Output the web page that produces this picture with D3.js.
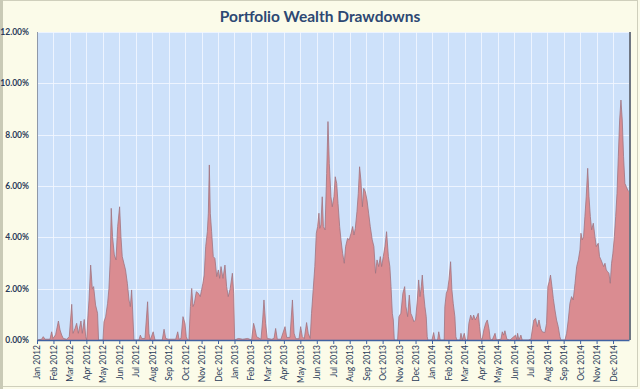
<!DOCTYPE html>
<html>
<head>
<meta charset="utf-8">
<script src="https://cdn.jsdelivr.net/npm/d3@7"></script>
<style>
  body { margin: 0; background: #fbfbe9; }
  svg { display: block; }
  text { font-family: Lato, "Liberation Sans", sans-serif; }
</style>
</head>
<body>
<div id="chart"></div>
<script>
// month labels along the x axis
var monthLabels = [
  "Jan 2012","Feb 2012","Mar 2012","Apr 2012","May 2012","Jun 2012","Jul 2012","Aug 2012","Sep 2012","Oct 2012","Nov 2012","Dec 2012",
  "Jan 2013","Feb 2013","Mar 2013","Apr 2013","May 2013","Jun 2013","Jul 2013","Aug 2013","Sep 2013","Oct 2013","Nov 2013","Dec 2013",
  "Jan 2014","Feb 2014","Mar 2014","Apr 2014","May 2014","Jun 2014","Jul 2014","Aug 2014","Sep 2014","Oct 2014","Nov 2014","Dec 2014"
];
var yTicks = [0, 2, 4, 6, 8, 10, 12];

// position in months since Jan 2012
var months = [
  0,0.28,0.38,0.49,0.79,0.89,0.97,1.13,1.30,1.40,1.50,1.60,1.80,1.96,2.11,2.19,2.31,2.41,2.51,2.67,2.75,2.87,2.96,3.02,
  3.08,3.16,3.26,3.36,3.44,3.56,3.68,3.74,4.01,4.07,4.17,4.29,4.37,4.45,4.51,4.59,4.70,4.80,4.90,5.02,5.10,5.18,5.28,
  5.38,5.49,5.59,5.67,5.75,5.81,5.89,6.19,6.28,6.36,6.56,6.72,6.80,6.88,7.06,7.17,
  7.61,7.72,7.82,7.98,8.43,8.55,8.63,8.75,8.87,8.99,9.07,9.15,9.23,9.32,9.40,9.48,9.56,9.68,9.80,9.92,10.0,10.08,10.16,
  10.25,10.35,10.41,10.47,10.53,10.61,10.71,10.81,10.92,11.02,11.10,11.18,11.30,11.42,11.52,11.62,11.74,11.87,11.95,12.01,
  12.23,12.50,12.80,13.04,13.16,13.24,13.34,13.61,13.71,13.79,13.89,13.99,14.26,14.40,14.50,14.60,14.82,15.07,15.17,
  15.37,15.52,15.62,15.72,15.92,16.02,16.12,16.24,16.38,16.48,16.60,16.68,16.78,16.88,16.97,17.05,17.13,17.18,17.25,
  17.33,17.40,17.50,17.60,17.68,17.76,17.86,17.94,18.04,18.12,18.21,18.29,18.39,18.47,18.57,18.67,18.75,18.87,18.97,
  19.08,19.18,19.26,19.34,19.44,19.52,19.60,19.68,19.77,19.85,19.95,20.05,20.15,20.25,20.37,20.47,20.57,20.66,20.76,
  20.86,20.94,21.04,21.14,21.24,21.35,21.44,21.51,21.59,21.65,21.71,21.91,
  21.99,22.11,22.23,22.34,22.42,22.52,22.62,22.71,22.80,22.90,23.0,23.11,23.19,23.27,23.35,23.41,23.49,23.57,23.65,
  23.71,23.75,24.0,24.10,24.18,24.34,24.41,24.50,24.74,24.78,24.87,24.95,25.03,25.13,25.21,25.29,25.39,25.45,25.51,
  25.70,25.76,25.84,25.96,26.04,26.16,26.24,26.35,26.45,26.53,26.63,26.73,26.81,26.89,26.97,27.05,27.15,27.26,27.36,
  27.46,27.54,27.66,27.83,27.91,28.19,28.27,28.35,28.43,28.55,28.74,29.08,29.16,
  29.20,29.28,29.40,29.48,29.85,30.01,30.09,30.19,30.29,30.40,30.50,30.60,30.70,30.86,30.96,31.04,31.12,31.20,31.29,
  31.37,31.47,31.57,31.67,31.77,31.83,32.08,32.18,32.28,32.38,32.48,32.58,32.69,32.79,32.89,32.99,33.05,33.13,33.21,
  33.29,33.37,33.46,33.54,33.62,33.70,33.80,33.90,33.98,34.10,34.18,34.27,34.35,34.43,34.51,34.59,34.67,34.75,34.83,
  34.91,34.99,35.08,35.16,35.24,35.32,35.40,35.48,35.56,35.64,35.72,35.81,35.89,35.97
];
// drawdown in percent at each position above
var drawdown = [
  0,0.03,0.13,0.03,0.03,0.32,0.06,0.2,0.74,0.39,0.19,0.06,0.03,0.13,1.39,0.26,0.45,0.65,0.26,0.74,0.26,0.8,0.13,0,
  0.78,1.56,2.92,2.0,2.08,1.36,1.04,0,0,0.71,0.9,1.43,2.01,3.12,5.13,4.03,3.31,3.12,4.42,5.19,4.03,3.25,2.99,
  2.73,2.21,1.56,1.3,1.95,1.17,0,0,0.19,0.06,0.06,1.49,0.26,0,0.32,0,
  0,0.42,0.06,0.03,0.03,0.32,0.03,0.06,0.91,0.65,0.13,0,0,1.3,2.01,1.3,1.43,1.88,1.82,1.69,1.95,2.21,2.53,
  3.64,4.22,4.94,6.82,4.94,4.22,3.25,3.18,2.47,2.73,2.4,2.86,2.4,2.92,2.08,1.69,2.01,2.6,1.82,0,
  0.06,0.03,0.06,0,0.65,0.45,0.13,0.03,0.78,1.56,0.65,0.06,0.03,0.06,0.45,0.03,0.03,0.52,0.1,
  0.1,1.56,0.26,0.05,0.05,0.52,0.13,0.05,0.68,0.26,0.06,1.04,1.95,2.86,4.16,4.42,4.94,4.35,4.48,
  5.58,4.42,4.29,6.49,8.51,6.88,5.58,5.19,5.58,6.36,6.1,5.32,4.42,3.9,3.38,2.99,3.64,3.96,3.9,
  4.16,4.42,4.09,4.35,5.0,5.71,6.75,6.23,5.19,5.91,5.78,5.45,4.94,4.42,3.9,3.64,2.6,3.12,2.86,
  3.25,2.86,3.25,3.64,4.22,3.25,2.86,2.08,1.04,0.78,0,0,
  0.91,1.04,1.82,2.08,1.3,0.91,1.75,1.04,0.91,0.71,0.78,1.56,2.34,1.69,2.08,2.53,1.82,1.3,0.91,
  0.13,0,0,0.29,0,0,0.32,0,0,1.3,1.82,1.95,2.34,3.05,1.95,1.43,0.91,0.13,0,
  0,0.26,0,0.26,0,0,0.65,0.97,0.78,0.97,0.78,0.91,1.04,0.52,0.06,0.03,0.39,0.65,0.78,
  0.45,0.03,0,0.26,0,0.03,0.32,0.19,0.36,0.03,0,0.19,0,
  0.26,0,0.19,0,0,0.03,0.39,0.78,0.84,0.52,0.78,0.45,0.32,0.29,0.65,2.08,2.27,2.53,2.08,
  1.62,1.17,0.78,0.52,0.13,0,0,0.26,0.78,1.43,1.69,1.56,2.21,2.86,3.12,3.51,4.16,3.9,4.03,
  4.81,5.58,6.69,5.58,4.81,4.29,4.55,4.03,3.64,3.77,3.25,3.12,2.99,2.86,2.99,2.73,2.66,2.6,2.21,
  2.99,3.38,4.03,4.81,5.71,7.14,8.57,9.35,8.57,7.14,6.1,5.97,5.84,5.78
];

var width = 640, height = 389;
var plotLeft = 37, plotRight = 629.5, plotTop = 32, plotBottom = 340;

var svg = d3.select("#chart").append("svg")
  .attr("width", width)
  .attr("height", height);

// chart frame
svg.append("rect")
  .attr("x", 0.5).attr("y", 0.5)
  .attr("width", width - 3).attr("height", height - 3)
  .attr("fill", "#fbfbe9")
  .attr("stroke", "#cfcfbc");
svg.append("rect")
  .attr("x", 0).attr("y", 0)
  .attr("width", 3).attr("height", height)
  .attr("fill", "#c9cab6");

var x = d3.scaleLinear().domain([0, 36]).range([plotLeft, plotRight]);
var y = d3.scaleLinear().domain([0, 12]).range([plotBottom, plotTop]);

// plot background
svg.append("rect")
  .attr("x", plotLeft).attr("y", plotTop)
  .attr("width", plotRight - plotLeft).attr("height", plotBottom - plotTop)
  .attr("fill", "#cde1fa");

// grid lines
svg.append("g").selectAll("line")
  .data(d3.range(1, 36))
  .join("line")
  .attr("x1", function(d) { return Math.round(x(d)) + 0.5; })
  .attr("x2", function(d) { return Math.round(x(d)) + 0.5; })
  .attr("y1", plotTop).attr("y2", plotBottom)
  .attr("stroke", "#f2f7ff")
  .attr("stroke-opacity", 0.85);
svg.append("g").selectAll("line")
  .data(yTicks.slice(1))
  .join("line")
  .attr("x1", plotLeft).attr("x2", plotRight)
  .attr("y1", function(d) { return Math.round(y(d)) + 0.5; })
  .attr("y2", function(d) { return Math.round(y(d)) + 0.5; })
  .attr("stroke", "#f2f7ff")
  .attr("stroke-opacity", 0.85);

var pts = months.map(function(m, i) { return [m, drawdown[i]]; });

var area = d3.area()
  .x(function(d) { return x(d[0]); })
  .y0(y(0))
  .y1(function(d) { return y(d[1]); });
var line = d3.line()
  .x(function(d) { return x(d[0]); })
  .y(function(d) { return y(d[1]); });

svg.append("path")
  .datum(pts)
  .attr("d", area)
  .attr("fill", "#da8c91");
svg.append("path")
  .datum(pts)
  .attr("d", line)
  .attr("fill", "none")
  .attr("stroke", "#a07480")
  .attr("stroke-width", 0.8)
  .attr("stroke-linejoin", "round");

// left axis line
svg.append("line")
  .attr("x1", plotLeft + 0.5).attr("x2", plotLeft + 0.5)
  .attr("y1", plotTop).attr("y2", plotBottom)
  .attr("stroke", "#8f98a8");

// right edge of the plot
svg.append("line")
  .attr("x1", plotRight + 0.5).attr("x2", plotRight + 0.5)
  .attr("y1", plotTop).attr("y2", plotBottom)
  .attr("stroke", "#6f7682")
  .attr("stroke-width", 2);

// y labels
svg.append("g").selectAll("text")
  .data(yTicks)
  .join("text")
  .attr("x", 29)
  .attr("y", function(d) { return y(d); })
  .attr("dy", "0.35em")
  .attr("text-anchor", "end")
  .attr("font-size", 8.5)
  .attr("font-weight", "bold")
  .attr("fill", "#2a3b5a")
  .text(function(d) { return d.toFixed(2) + "%"; });

// x axis
var xAxis = d3.axisBottom(x)
  .tickValues(d3.range(0, 36))
  .tickSize(4)
  .tickFormat(function(d) { return monthLabels[d]; });
var gx = svg.append("g")
  .attr("transform", "translate(0," + plotBottom + ")")
  .call(xAxis);
gx.select(".domain")
  .attr("d", "M" + plotLeft + ",0.5H" + plotRight)
  .attr("stroke", "#3f62a2")
  .attr("stroke-width", 1.5);
gx.selectAll(".tick line").attr("stroke", "#3f62a2");
gx.selectAll(".tick text")
  .attr("transform", "rotate(-90)")
  .attr("x", -5)
  .attr("y", 0)
  .attr("dy", "0.35em")
  .attr("text-anchor", "end")
  .attr("font-family", "Lato, 'Liberation Sans', sans-serif")
  .attr("font-size", 8.5)
  .attr("fill", "#2a3b5a");

// title
svg.append("text")
  .attr("x", 320)
  .attr("y", 22)
  .attr("text-anchor", "middle")
  .attr("font-size", 15.5)
  .attr("font-weight", "bold")
  .attr("fill", "#2d4873")
  .text("Portfolio Wealth Drawdowns");
</script>
</body>
</html>
